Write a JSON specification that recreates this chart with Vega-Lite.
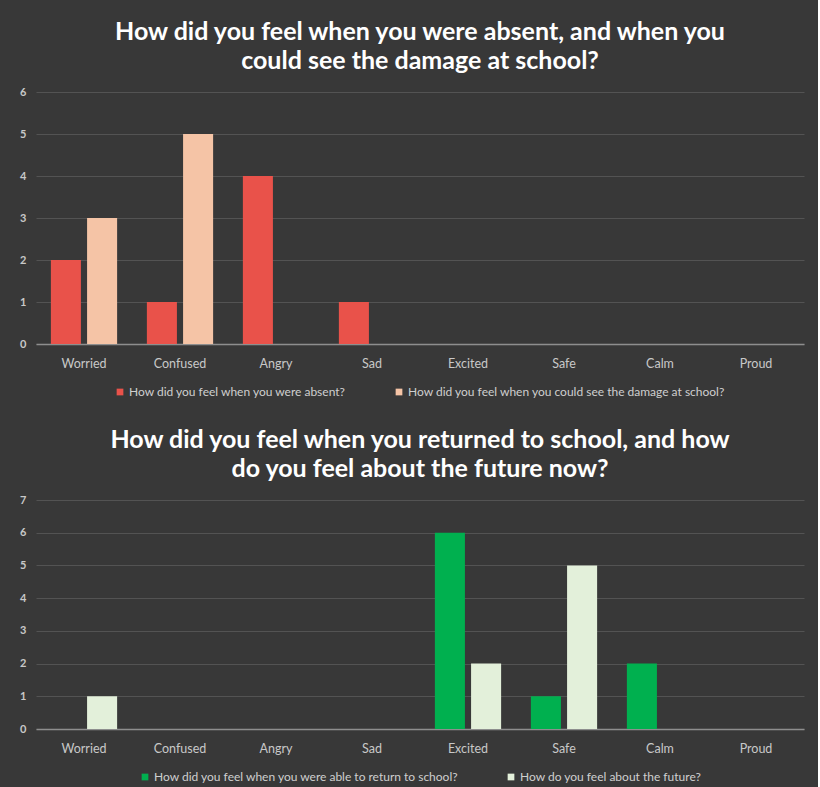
{
  "$schema": "https://vega.github.io/schema/vega-lite/v6.json",
  "background": "#383838",
  "padding": {"left": 19, "top": 20, "right": 14, "bottom": 4},
  "spacing": 30,
  "datasets": {
    "top": [
      {"feeling": "Worried", "series": "How did you feel when you were absent?", "count": 2},
      {"feeling": "Worried", "series": "How did you feel when you could see the damage at school?", "count": 3},
      {"feeling": "Confused", "series": "How did you feel when you were absent?", "count": 1},
      {"feeling": "Confused", "series": "How did you feel when you could see the damage at school?", "count": 5},
      {"feeling": "Angry", "series": "How did you feel when you were absent?", "count": 4},
      {"feeling": "Sad", "series": "How did you feel when you were absent?", "count": 1}
    ],
    "bottom": [
      {"feeling": "Worried", "series": "How do you feel about the future?", "count": 1},
      {"feeling": "Excited", "series": "How did you feel when you were able to return to school?", "count": 6},
      {"feeling": "Excited", "series": "How do you feel about the future?", "count": 2},
      {"feeling": "Safe", "series": "How did you feel when you were able to return to school?", "count": 1},
      {"feeling": "Safe", "series": "How do you feel about the future?", "count": 5},
      {"feeling": "Calm", "series": "How did you feel when you were able to return to school?", "count": 2}
    ]
  },
  "config": {
    "view": {"stroke": null},
    "title": {"color": "#ffffff", "font": "Lato", "fontSize": 25, "fontWeight": "bold", "lineHeight": 29, "anchor": "middle", "offset": 12},
    "axis": {"labelFont": "Lato", "labelColor": "#c8c8c8", "title": null, "ticks": false, "gridColor": "#535353", "gridWidth": 1},
    "axisX": {"labelFontSize": 12.5, "labelAngle": 0, "labelPadding": 13, "domainColor": "#8e8e8e", "domainWidth": 1.5, "grid": false},
    "axisY": {"labelFontSize": 11, "labelFontWeight": "bold", "labelPadding": 10, "domain": false},
    "legend": {"orient": "bottom", "direction": "horizontal", "title": null, "symbolType": "square", "symbolSize": 45, "symbolStrokeWidth": 0, "labelFont": "Lato", "labelFontSize": 12, "labelColor": "#cfcfcf", "columnPadding": 46, "labelOffset": 3, "offset": 16, "labelLimit": 400, "layout": {"bottom": {"anchor": "middle"}}}
  },
  "resolve": {"scale": {"color": "independent", "y": "independent", "xOffset": "independent"}, "legend": {"color": "independent"}},
  "vconcat": [
    {
      "title": {"text": ["How did you feel when you were absent, and when you", "could see the damage at school?"]},
      "data": {"name": "top"},
      "width": 768,
      "height": 252,
      "mark": {"type": "bar"},
      "encoding": {
        "x": {"field": "feeling", "type": "nominal", "sort": null,
              "scale": {"domain": ["Worried", "Confused", "Angry", "Sad", "Excited", "Safe", "Calm", "Proud"], "paddingInner": 0.31, "paddingOuter": 0.155}},
        "xOffset": {"field": "series", "type": "nominal",
                    "scale": {"domain": ["How did you feel when you were absent?", "How did you feel when you could see the damage at school?"], "paddingInner": 0.17, "paddingOuter": 0}},
        "y": {"field": "count", "type": "quantitative", "scale": {"domain": [0, 6], "nice": false}, "axis": {"values": [0, 1, 2, 3, 4, 5, 6], "format": "d"}},
        "color": {"field": "series", "type": "nominal",
                  "scale": {"domain": ["How did you feel when you were absent?", "How did you feel when you could see the damage at school?"], "range": ["#e9524a", "#f5c4a6"]}}
      }
    },
    {
      "title": {"text": ["How did you feel when you returned to school, and how", "do you feel about the future now?"]},
      "data": {"name": "bottom"},
      "width": 768,
      "height": 229,
      "mark": {"type": "bar"},
      "encoding": {
        "x": {"field": "feeling", "type": "nominal", "sort": null,
              "scale": {"domain": ["Worried", "Confused", "Angry", "Sad", "Excited", "Safe", "Calm", "Proud"], "paddingInner": 0.31, "paddingOuter": 0.155}},
        "xOffset": {"field": "series", "type": "nominal",
                    "scale": {"domain": ["How did you feel when you were able to return to school?", "How do you feel about the future?"], "paddingInner": 0.17, "paddingOuter": 0}},
        "y": {"field": "count", "type": "quantitative", "scale": {"domain": [0, 7], "nice": false}, "axis": {"values": [0, 1, 2, 3, 4, 5, 6, 7], "format": "d"}},
        "color": {"field": "series", "type": "nominal",
                  "scale": {"domain": ["How did you feel when you were able to return to school?", "How do you feel about the future?"], "range": ["#00b04f", "#e3f0da"]}}
      }
    }
  ]
}
